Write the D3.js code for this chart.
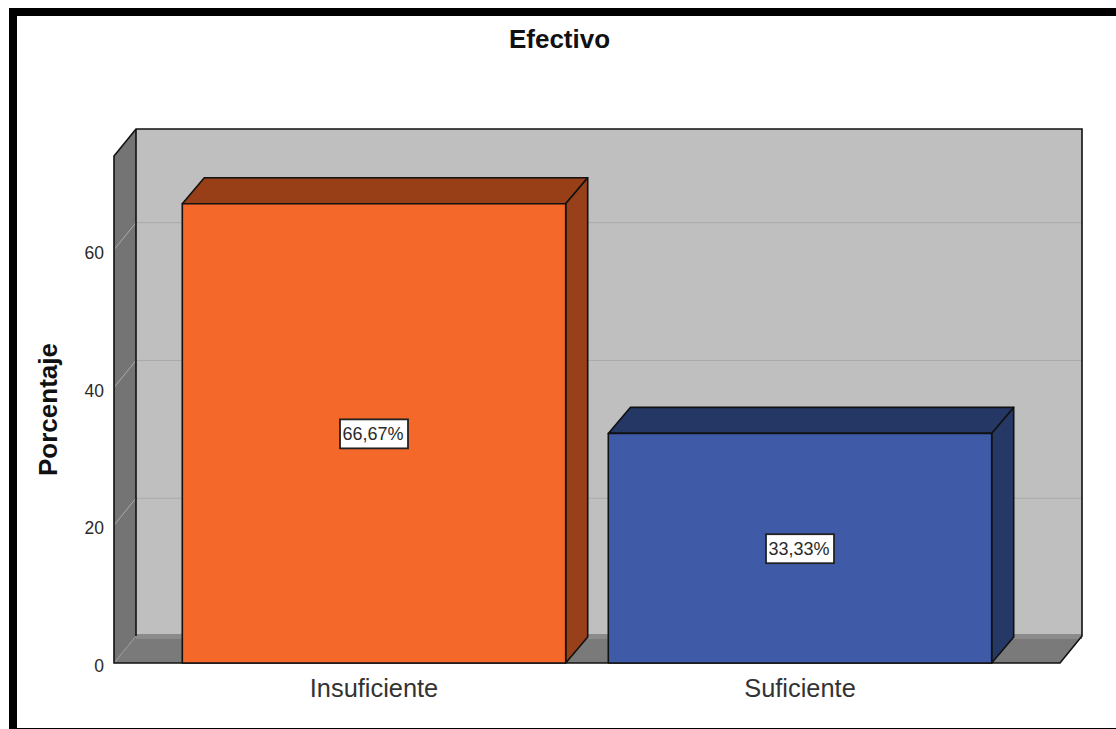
<!DOCTYPE html>
<html lang="es">
<head>
<meta charset="utf-8">
<title>Efectivo</title>
<script src="https://cdn.jsdelivr.net/npm/d3@7/dist/d3.min.js"></script>
<style>
html, body { margin: 0; padding: 0; background: #fff; }
svg { display: block; }
text { font-family: "Liberation Sans", Arial, sans-serif; }
</style>
</head>
<body>
<svg id="chart" width="1116" height="729"></svg>
<script>
// Chart values
const categories = ["Insuficiente", "Suficiente"];
const percentages = [66.67, 33.33];
const valueLabels = ["66,67%", "33,33%"];
const yTicks = [0, 20, 40, 60];
const frontColors = ["#f4682a", "#3f5ba7"];
const topColors = ["#983f18", "#253765"];
const sideColors = ["#98401a", "#263866"];

const svg = d3.select("#chart");

// Oblique projection offsets between the front and back planes
const depthX = 22, depthY = -27, barDepthY = -26;

const y = d3.scaleLinear().domain([0, 73.6]).range([663, 156]);
const plotX = [114, 1060];
const x = d3.scaleBand().domain(categories).range([161, 1013])
  .paddingInner(0.1).paddingOuter(0.05);

const poly = pts => "M" + pts.map(p => p.join(",")).join("L") + "Z";
const ink = "#111";

// Outer frame: left, top and bottom edges only
svg.append("rect").attr("x", 9).attr("y", 8).attr("width", 8).attr("height", 721).attr("fill", "#000");
svg.append("rect").attr("x", 9).attr("y", 8).attr("width", 1107).attr("height", 8).attr("fill", "#000");
svg.append("rect").attr("x", 9).attr("y", 728).attr("width", 1107).attr("height", 1).attr("fill", "#000");

const y0 = y(0), yT = y(y.domain()[1]);
const [xL, xR] = plotX;

// Back wall
svg.append("path")
  .attr("d", poly([[xL + depthX, yT + depthY], [xR + depthX, yT + depthY], [xR + depthX, y0 + depthY], [xL + depthX, y0 + depthY]]))
  .attr("fill", "#bfbfbf");

// Floor
svg.append("path")
  .attr("d", poly([[xL, y0], [xL + depthX, y0 + depthY], [xR + depthX, y0 + depthY], [xR, y0]]))
  .attr("fill", "#7a7a7a");
svg.append("rect").attr("x", xL + depthX).attr("y", y0 + depthY - 2)
  .attr("width", xR - xL).attr("height", 5).attr("fill", "#8b8b8b");

// Left wall
svg.append("path")
  .attr("d", poly([[xL, yT], [xL + depthX, yT + depthY], [xL + depthX, y0 + depthY], [xL, y0]]))
  .attr("fill", "#747474");

// Gridlines running across the left wall and back wall
const grid = svg.append("g").attr("fill", "none").attr("stroke", "#aaaaaa").attr("stroke-width", 1);
yTicks.filter(t => t > 0).forEach(t => {
  grid.append("path").attr("d", `M${xL},${y(t)}L${xL + depthX},${y(t) + depthY}L${xR + depthX},${y(t) + depthY}`);
});
grid.append("path").attr("d", `M${xL},${y0}L${xL + depthX},${y0 + depthY}`).attr("stroke", "#999");

// Wall and floor outlines
svg.append("path")
  .attr("d", `M${xL},${y0}L${xL},${yT}L${xL + depthX},${yT + depthY}L${xR + depthX},${yT + depthY}L${xR + depthX},${y0 + depthY}L${xR},${y0}Z`)
  .attr("fill", "none").attr("stroke", ink).attr("stroke-width", 1.6);
svg.append("path")
  .attr("d", `M${xL + depthX},${yT + depthY}L${xL + depthX},${y0 + depthY}`)
  .attr("fill", "none").attr("stroke", ink).attr("stroke-width", 1.6);

// Extruded bars
const bars = svg.append("g").selectAll("g").data(categories).join("g");
const bx0 = c => x(c), bx1 = c => x(c) + x.bandwidth();
const val = (c, i) => y(percentages[i]);

bars.append("path")
  .attr("d", (c, i) => poly([[bx0(c), val(c, i)], [bx0(c) + depthX, val(c, i) + barDepthY], [bx1(c) + depthX, val(c, i) + barDepthY], [bx1(c), val(c, i)]]))
  .attr("fill", (c, i) => topColors[i]);
bars.append("path")
  .attr("d", (c, i) => poly([[bx1(c), val(c, i)], [bx1(c) + depthX, val(c, i) + barDepthY], [bx1(c) + depthX, y0 + barDepthY], [bx1(c), y0]]))
  .attr("fill", (c, i) => sideColors[i]);
bars.append("path")
  .attr("d", (c, i) => poly([[bx0(c), val(c, i)], [bx1(c), val(c, i)], [bx1(c), y0], [bx0(c), y0]]))
  .attr("fill", (c, i) => frontColors[i]);
bars.selectAll("path").attr("stroke", ink).attr("stroke-width", 1.6).attr("stroke-linejoin", "round");

// Value labels in white boxes at mid-height of each bar
const labels = svg.append("g").selectAll("g").data(categories).join("g")
  .attr("transform", (c, i) => `translate(${x(c) + x.bandwidth() / 2},${y(percentages[i] / 2)})`);
labels.append("rect").attr("x", -34).attr("y", -14).attr("width", 68).attr("height", 29)
  .attr("fill", "#fff").attr("stroke", "#222").attr("stroke-width", 1.8);
labels.append("text").attr("text-anchor", "middle").attr("x", -1).attr("y", 6.5)
  .attr("font-size", 18).attr("fill", "#2a2a2a").text((c, i) => valueLabels[i]);

// Axes carry labels only; the walls stand in for domain and tick lines
const yAxis = svg.append("g").attr("transform", `translate(${xL},0)`)
  .call(d3.axisLeft(y).tickValues(yTicks).tickSize(0).tickPadding(10));
yAxis.select(".domain").remove();
yAxis.selectAll("text").attr("font-size", 17.5).attr("fill", "#2a2a2a").attr("dy", "0.5em");

const xAxis = svg.append("g").attr("transform", `translate(0,${y0})`)
  .call(d3.axisBottom(x).tickSize(0).tickPadding(16));
xAxis.select(".domain").remove();
xAxis.selectAll("text").attr("font-size", 25.4).attr("fill", "#333");

// Titles
svg.append("text").attr("x", 559.5).attr("y", 48).attr("text-anchor", "middle")
  .attr("font-size", 26).attr("font-weight", "bold").attr("fill", "#111").text("Efectivo");
svg.append("text").attr("transform", "translate(57,409.5) rotate(-90)").attr("text-anchor", "middle")
  .attr("font-size", 26).attr("font-weight", "bold").attr("fill", "#111").text("Porcentaje");
</script>
</body>
</html>
